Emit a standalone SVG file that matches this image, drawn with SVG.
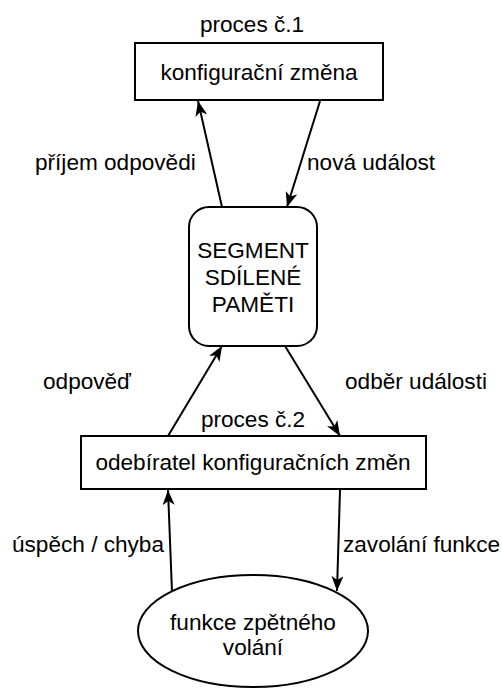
<svg xmlns="http://www.w3.org/2000/svg" width="502" height="689" viewBox="0 0 502 689">
<style>
text{font-family:"Liberation Sans",Arial,sans-serif;font-size:22.6px;fill:#000}
.c{text-anchor:middle}
.shape{fill:#fff;stroke:#000;stroke-width:2}
.edge{fill:none;stroke:#000;stroke-width:2}
</style>
<defs>
<marker id="arr" markerUnits="userSpaceOnUse" markerWidth="16" markerHeight="12" refX="15" refY="6" orient="auto" viewBox="0 0 16 12">
<path d="M0,0 L15,6 L0,12 L4,6 Z" fill="#000"/>
</marker>
</defs>
<rect width="502" height="689" fill="#fff"/>
<g id="edges">
<line class="edge" x1="222" y1="207" x2="198" y2="101" marker-end="url(#arr)"/>
<line class="edge" x1="320" y1="101" x2="287" y2="207" marker-end="url(#arr)"/>
<line class="edge" x1="168" y1="436" x2="222" y2="346" marker-end="url(#arr)"/>
<line class="edge" x1="285" y1="346" x2="340" y2="436" marker-end="url(#arr)"/>
<line class="edge" x1="172" y1="592" x2="168" y2="490" marker-end="url(#arr)"/>
<line class="edge" x1="340" y1="490" x2="337" y2="591" marker-end="url(#arr)"/>
<text x="35" y="170">příjem odpovědi</text>
<text x="307" y="170">nová událost</text>
<text x="43" y="389">odpověď</text>
<text x="345" y="389">odběr události</text>
<text x="12" y="552">úspěch / chyba</text>
<text x="343" y="552">zavolání funkce</text>
</g>
<g id="proces1">
<text class="c" x="252" y="32">proces č.1</text>
<rect class="shape" x="135" y="43" width="248" height="57"/>
<text class="c" x="259" y="80">konfigurační změna</text>
</g>
<g id="segment">
<rect class="shape" x="189" y="207" width="128" height="139" rx="20" ry="20"/>
<text class="c" x="253" y="258">SEGMENT</text>
<text class="c" x="253" y="285">SDÍLENÉ</text>
<text class="c" x="253" y="312">PAMĚTI</text>
</g>
<g id="proces2">
<text class="c" x="253" y="427">proces č.2</text>
<rect class="shape" x="81" y="436" width="345" height="53"/>
<text class="c" x="253" y="470">odebíratel konfiguračních změn</text>
</g>
<g id="callback">
<ellipse class="shape" cx="253" cy="631" rx="115" ry="56"/>
<text class="c" x="253" y="630">funkce zpětného</text>
<text class="c" x="253" y="655">volání</text>
</g>
</svg>
